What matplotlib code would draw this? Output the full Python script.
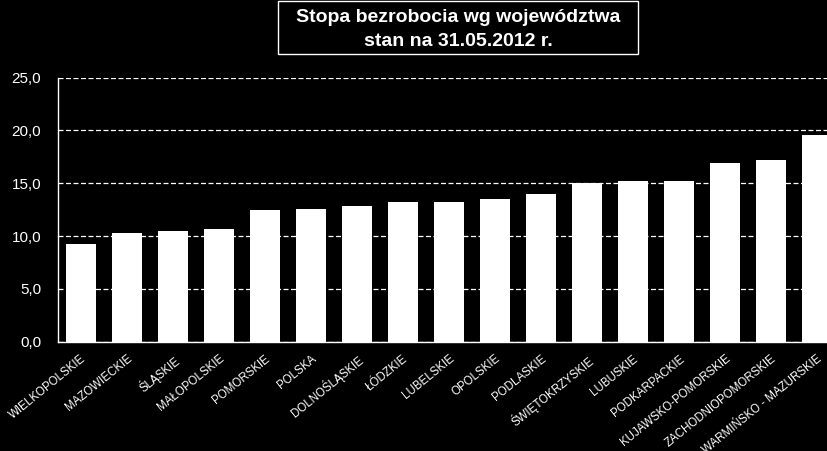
"""
Stopa bezrobocia wg województw - white bars on black, Excel-style
"""
import matplotlib
matplotlib.use("Agg")
import matplotlib.pyplot as plt
from matplotlib.patches import Rectangle
import numpy as np

regions = [
    "WIELKOPOLSKIE", "MAZOWIECKIE", "ŚLĄSKIE", "MAŁOPOLSKIE", "POMORSKIE",
    "POLSKA", "DOLNOŚLĄSKIE", "ŁÓDZKIE", "LUBELSKIE", "OPOLSKIE", "PODLASKIE",
    "ŚWIĘTOKRZYSKIE", "LUBUSKIE", "PODKARPACKIE", "KUJAWSKO-POMORSKIE",
    "ZACHODNIOPOMORSKIE", "WARMIŃSKO - MAZURSKIE",
]
rates = [9.2, 10.3, 10.5, 10.7, 12.5, 12.6, 12.8, 13.2, 13.2, 13.5, 14.0,
         15.0, 15.2, 15.2, 16.9, 17.2, 19.6]
y_ticks = [0, 5, 10, 15, 20, 25]

plt.rcParams["font.family"] = ["Liberation Sans", "DejaVu Sans"]

W, H = 827, 451
fig = plt.figure(figsize=(W / 100, H / 100), dpi=100, facecolor="black")

# plot area in pixels: left 58, top 77.5, bottom 341.7, extends past right edge
ax = fig.add_axes([58 / W, (H - 341.7) / H, 782 / W, 264.2 / H])
ax.set_facecolor("black")

x = np.arange(len(regions))
ax.bar(x, rates, width=0.64, color="white", zorder=3)

ax.set_xlim(-0.5, len(regions) - 0.5)
ax.set_ylim(0, 25)
ax.set_yticks(y_ticks)
ax.set_yticklabels([f"{v:.1f}".replace(".", ",") for v in y_ticks],
                   color="white", fontsize=11)
ax.yaxis.grid(True, color="white", linestyle=(0, (4, 2)), linewidth=0.9, zorder=1)
ax.tick_params(axis="y", length=0, pad=12)

ax.set_xticks(x)
ax.set_xticklabels(regions, rotation=39, ha="right", rotation_mode="anchor",
                   color="white", fontsize=8.3)
ax.tick_params(axis="x", length=0, pad=8)

for side in ["top", "right"]:
    ax.spines[side].set_visible(False)
for side in ["left", "bottom"]:
    ax.spines[side].set_color("white")
    ax.spines[side].set_linewidth(1.0)
    ax.spines[side].set_zorder(4)

# title box
fig.patches.append(Rectangle((278 / W, (H - 54) / H), 360 / W, 53 / H,
                             transform=fig.transFigure, facecolor="black",
                             edgecolor="white", linewidth=1.0))
fig.text(458 / W, (H - 17) / H, "Stopa bezrobocia wg województwa",
         ha="center", va="center", color="white", fontsize=14, fontweight="bold")
fig.text(458 / W, (H - 41) / H, "stan na 31.05.2012 r.",
         ha="center", va="center", color="white", fontsize=14, fontweight="bold")

fig.savefig("out.png", dpi=100, facecolor="black")
